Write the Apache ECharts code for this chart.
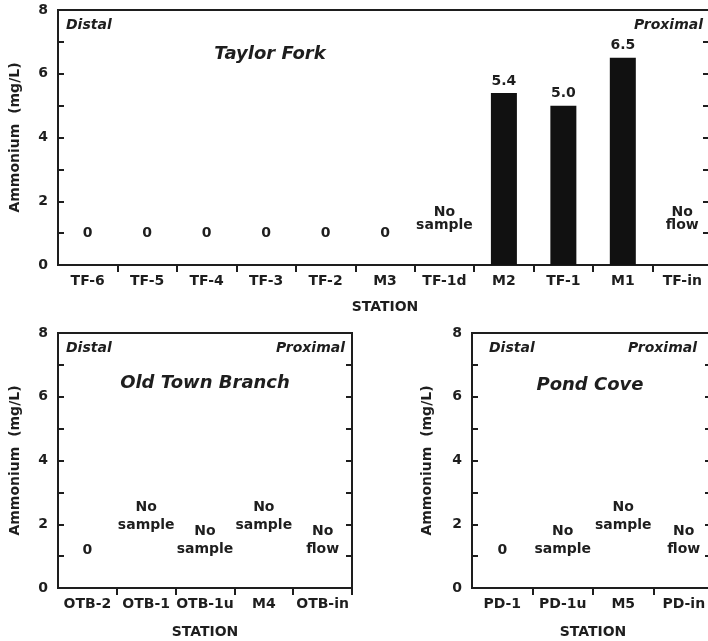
<!DOCTYPE html>
<html>
<head>
<meta charset="utf-8">
<script src="https://cdn.jsdelivr.net/npm/echarts@6/dist/echarts.min.js"></script>
<style>
  html, body { margin: 0; padding: 0; background: #fff; }
  #chart { width: 708px; height: 641px; }
</style>
</head>
<body>
<div id="chart"></div>
<script>
// Ammonium concentrations by sampling station, ordered distal -> proximal.
const tfStations = ['TF-6', 'TF-5', 'TF-4', 'TF-3', 'TF-2', 'M3', 'TF-1d', 'M2', 'TF-1', 'M1', 'TF-in'];
const tfValues = [0, 0, 0, 0, 0, 0, null, 5.4, 5.0, 6.5, null];
const tfNotes = [null, null, null, null, null, null, 'No\nsample', null, null, null, 'No\nflow'];

const otbStations = ['OTB-2', 'OTB-1', 'OTB-1u', 'M4', 'OTB-in'];
const otbValues = [0, null, null, null, null];
const otbNotes = [null, 'No\nsample', 'No\nsample', 'No\nsample', 'No\nflow'];

const pdStations = ['PD-1', 'PD-1u', 'M5', 'PD-in'];
const pdValues = [0, null, null, null];
const pdNotes = [null, 'No\nsample', 'No\nsample', 'No\nflow'];

const yTicks = [0, 2, 4, 6, 8];

// Height (in axis units) at which each station's note / zero label sits.
const tfNoteLevels = [1.0, 1.0, 1.0, 1.0, 1.0, 1.0, 1.45, 0, 0, 0, 1.45];
const otbNoteLevels = [1.19, 2.26, 1.5, 2.26, 1.5];
const pdNoteLevels = [1.19, 1.5, 2.26, 1.5];

const FONT = 'DejaVu Sans';
const INK = '#1e1e1e';

const panels = [
  { name: 'Taylor Fork', stations: tfStations, values: tfValues, notes: tfNotes, levels: tfNoteLevels,
    grid: { left: 58, top: 10, width: 654, height: 255 }, rightTick: 9, noteLine: 13, xNameGap: 35,
    title: [270, 54], distal: [66, 25], proximal: [703, 25] },
  { name: 'Old Town Branch', stations: otbStations, values: otbValues, notes: otbNotes, levels: otbNoteLevels,
    grid: { left: 58, top: 333, width: 294, height: 255 }, rightTick: 6, noteLine: 18, xNameGap: 37,
    title: [205, 383], distal: [66, 348], proximal: [345, 348] },
  { name: 'Pond Cove', stations: pdStations, values: pdValues, notes: pdNotes, levels: pdNoteLevels,
    grid: { left: 472, top: 333, width: 242, height: 255 }, rightTick: 9, noteLine: 18, xNameGap: 37,
    title: [590, 385], distal: [489, 348], proximal: [697, 348] }
];

const grids = [], xAxes = [], yAxes = [], series = [], graphics = [];

panels.forEach(function (p, k) {
  grids.push(Object.assign({
    show: true, borderColor: INK, borderWidth: 2, backgroundColor: '#fff',
    containLabel: false, outerBoundsMode: 'none'
  }, p.grid));

  xAxes.push({
    type: 'category', gridIndex: k, data: p.stations, boundaryGap: true,
    axisLine: { show: true, lineStyle: { color: INK, width: 2 } },
    axisTick: { show: true, inside: false, length: 7, lineStyle: { color: INK, width: 2 },
      interval: function (i) { return i !== 0; } },
    axisLabel: { color: INK, fontFamily: FONT, fontWeight: 'bold', fontSize: 14, margin: 9, interval: 0 },
    name: 'STATION', nameLocation: 'middle', nameGap: p.xNameGap,
    nameTextStyle: { color: INK, fontFamily: FONT, fontWeight: 'bold', fontSize: 14 },
    splitLine: { show: false }
  });

  const yBase = {
    type: 'value', gridIndex: k, min: 0, max: 8, interval: 1,
    splitLine: { show: false },
    axisLine: { show: true, lineStyle: { color: INK, width: 2 } }
  };
  yAxes.push(Object.assign({}, yBase, {
    position: 'left',
    axisTick: { show: true, inside: true, length: 6, lineStyle: { color: INK, width: 2 } },
    axisLabel: { color: INK, fontFamily: FONT, fontWeight: 'bold', fontSize: 14, margin: 10,
      formatter: function (v) { return yTicks.indexOf(v) >= 0 ? String(v) : ''; } },
    name: 'Ammonium  (mg/L)', nameLocation: 'middle', nameGap: k === 2 ? 38 : 36,
    nameTextStyle: { color: INK, fontFamily: FONT, fontWeight: 'bold', fontSize: 14 }
  }));
  yAxes.push(Object.assign({}, yBase, {
    position: 'right',
    axisTick: { show: true, inside: true, length: p.rightTick, lineStyle: { color: INK, width: 2 } },
    axisLabel: { show: false }
  }));

  series.push({
    type: 'bar', xAxisIndex: k, yAxisIndex: 2 * k, data: p.values, barWidth: 26,
    silent: true,
    itemStyle: { color: '#111' },
    label: {
      show: true, position: 'top', distance: 5, color: INK,
      fontFamily: FONT, fontWeight: 'bold', fontSize: 14,
      formatter: function (d) { return d.value > 0 ? d.value.toFixed(1) : ''; }
    }
  });

  // Notes ("0", "No sample", "No flow") placed inside the plot on the axis scale.
  const noteData = [];
  p.stations.forEach(function (s, i) {
    let text = null;
    if (p.values[i] === 0) text = '0';
    else if (p.notes[i]) text = p.notes[i];
    if (text !== null) noteData.push([i, p.levels[i], text]);
  });
  const lineH = p.noteLine;
  series.push({
    type: 'custom', xAxisIndex: k, yAxisIndex: 2 * k, data: noteData, silent: true,
    encode: { x: 0, y: 1 },
    renderItem: function (params, api) {
      const pt = api.coord([api.value(0), api.value(1)]);
      const text = noteData[params.dataIndex][2];
      return {
        type: 'text', x: pt[0], y: pt[1],
        style: {
          text: text, fill: INK, align: 'center', verticalAlign: 'middle',
          font: 'bold 14px "DejaVu Sans"', lineHeight: lineH
        }
      };
    }
  });

  graphics.push({
    type: 'text', x: p.title[0], y: p.title[1],
    style: { text: p.name, fill: INK, font: 'italic bold 18px "DejaVu Sans"', textAlign: 'center', textVerticalAlign: 'middle' }
  });
  graphics.push({
    type: 'text', x: p.distal[0], y: p.distal[1],
    style: { text: 'Distal', fill: INK, font: 'italic bold 14px "DejaVu Sans"', textAlign: 'left', textVerticalAlign: 'middle' }
  });
  graphics.push({
    type: 'text', x: p.proximal[0], y: p.proximal[1],
    style: { text: 'Proximal', fill: INK, font: 'italic bold 14px "DejaVu Sans"', textAlign: 'right', textVerticalAlign: 'middle' }
  });
});

const chart = echarts.init(document.getElementById('chart'), null, { renderer: 'canvas' });
chart.setOption({
  animation: false,
  backgroundColor: '#fff',
  grid: grids,
  xAxis: xAxes,
  yAxis: yAxes,
  series: series,
  graphic: graphics
});
</script>
</body>
</html>
